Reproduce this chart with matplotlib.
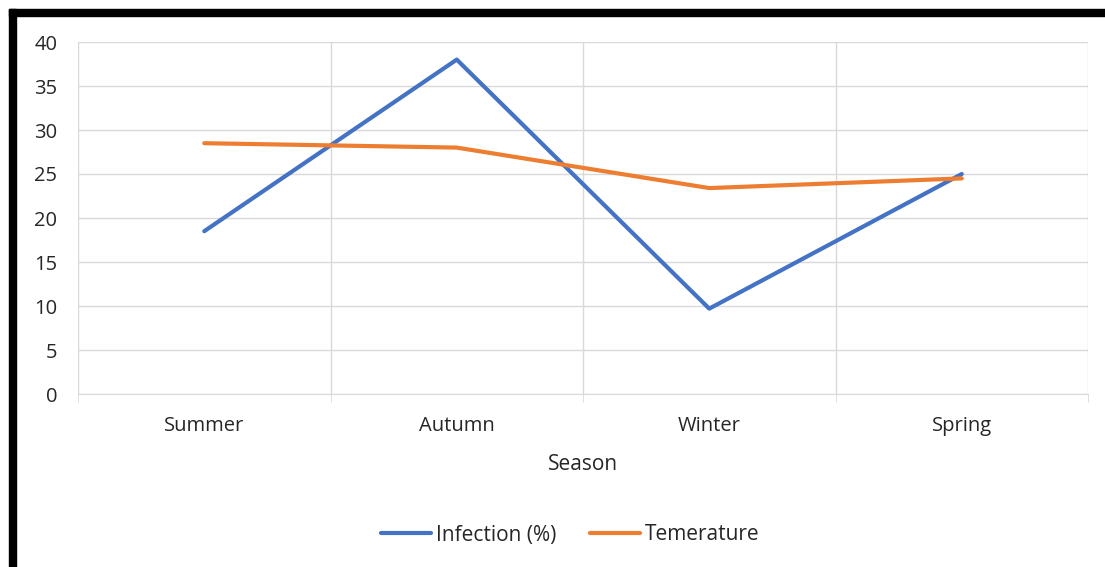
import matplotlib.pyplot as plt
from matplotlib.patches import Rectangle

# --- data ---
seasons = ['Summer', 'Autumn', 'Winter', 'Spring']
infection = [18.5, 38.0, 9.7, 25.0]
temperature = [28.5, 28.0, 23.4, 24.5]
y_ticks = [0, 5, 10, 15, 20, 25, 30, 35, 40]

W, H = 1105, 567
plt.rcParams['font.family'] = ['Open Sans', 'DejaVu Sans']

fig = plt.figure(figsize=(W / 100, H / 100), dpi=100)
ax = fig.add_axes([78 / W, 1 - 394 / H, (1088 - 78) / W, (394 - 42) / H])

x = list(range(len(seasons)))
ax.plot(x, infection, color='#4472C4', lw=3, label='Infection (%)', solid_capstyle='round')
ax.plot(x, temperature, color='#ED7D31', lw=3, label='Temerature', solid_capstyle='round')

ax.set_xlim(-0.5, len(seasons) - 0.5)
ax.set_ylim(0, 40)
ax.set_yticks(y_ticks)
ax.set_xticks(x)
ax.set_xticklabels(seasons)
ax.set_xticks([i - 0.5 for i in range(len(seasons) + 1)], minor=True)

ax.grid(True, axis='y', color='#D9D9D9', lw=1)
ax.grid(True, axis='x', which='minor', color='#D9D9D9', lw=1)
ax.set_axisbelow(True)
for s in ['top', 'right', 'left']:
    ax.spines[s].set_visible(False)
ax.spines['bottom'].set_color('#D9D9D9')
ax.tick_params(axis='x', which='major', length=0, pad=16, labelsize=14.5)
ax.tick_params(axis='x', which='minor', length=6, color='#D9D9D9')
ax.tick_params(axis='y', length=0, pad=15, labelsize=14.5)
for lbl in ax.get_yticklabels() + ax.get_xticklabels():
    lbl.set_color('#262626')

ax.set_xlabel('Season', fontsize=15, labelpad=13, color='#262626')

fig.legend(loc='center', bbox_to_anchor=(570 / W, 1 - 535 / H), ncol=2, frameon=False,
           fontsize=15, handlelength=2.4, handletextpad=0.25, columnspacing=1.6,
           labelcolor='#262626')

# black frame pieces at the top and left edge
fig.patches.append(Rectangle((9 / W, 1 - 16 / H), 1 - 9 / W, 7 / H,
                             transform=fig.transFigure, color='black', zorder=10))
fig.patches.append(Rectangle((9 / W, 0), 7 / W, 1 - 9 / H,
                             transform=fig.transFigure, color='black', zorder=10))

fig.savefig('out.png', dpi=100)
